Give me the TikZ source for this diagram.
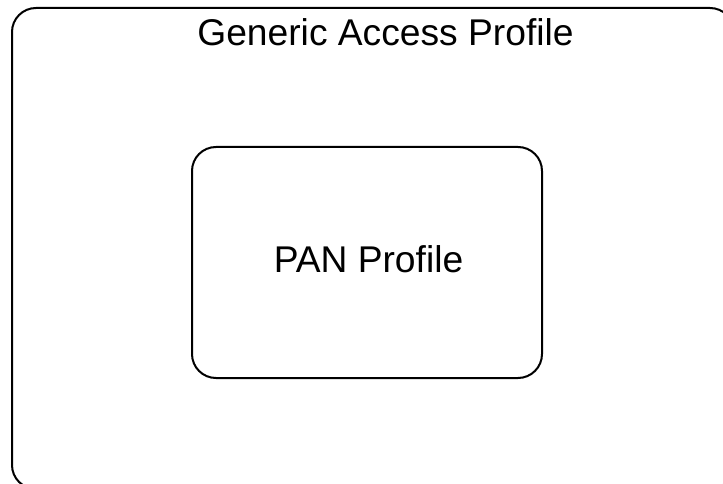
\documentclass[tikz,border=0pt]{standalone}
\usepackage{fontspec}
\setmainfont{Liberation Sans}
\begin{document}
\begin{tikzpicture}[x=1pt,y=-1pt]
		\path[use as bounding box] (0,0) rectangle (723,484);
		\clip (0,0) rectangle (723,484);
		\tikzstyle{every node}=[inner sep=0pt,font=\fontsize{37.2}{44}\selectfont]
		\tikzstyle{profile}=[draw=black,line width=2pt,rounded corners=24pt]
		
		%% Outer profile
		\node [profile,minimum width=722pt,minimum height=481pt] (gap) at (373,248.5) {};
		\node [anchor=base] (gaplabel) at (385.5,46) {Generic Access Profile};
		
		%% Inner profile
		\node [profile,minimum width=350pt,minimum height=231pt] (pan) at (367,262.5) {};
		\node [anchor=base] (panlabel) at (368.5,272) {PAN Profile};
		
	\end{tikzpicture}
\end{document}
